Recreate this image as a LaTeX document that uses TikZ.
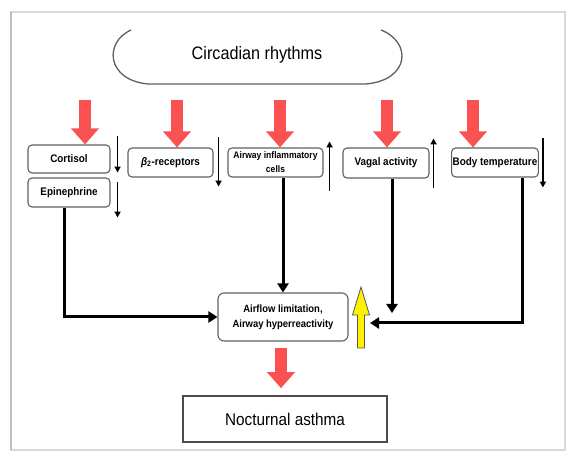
\documentclass[tikz,border=0pt]{standalone}
\usepackage{fontspec}
\setmainfont{Liberation Sans}[FakeStretch=0.9]
\usetikzlibrary{arrows.meta}
\definecolor{arrowred}{RGB}{250,82,82}
\definecolor{boxgray}{RGB}{95,95,95}
\tikzset{
  factor/.style={draw=boxgray, line width=1.1pt, rounded corners=4pt, inner sep=1pt, align=center,
    font=\bfseries\fontsize{11}{13}\selectfont},
  bigred/.style={arrowred, line width=12pt, -{Triangle[length=16pt,width=27pt]}},
  trend/.style={line width=1.7pt, -{Triangle[length=6pt,width=6pt]}},
  link/.style={line width=3pt, -{Triangle[length=9pt,width=11pt]}},
}
\begin{document}
\begin{tikzpicture}[x=1pt,y=-1pt]
  \useasboundingbox (0,0) rectangle (568,454);
  \draw[gray!30, line width=1.5pt] (11,12) rectangle (565,450);
  \draw[gray!50, line width=2.5pt] (11,12) -- (11,450);

  \node[font=\fontsize{18}{20}\selectfont] (circ) at (257,55) {Circadian rhythms};
  \draw[boxgray, line width=1.3pt]
    (131,30) .. controls (104,42) and (106,80) .. (148,84) -- (366,84)
    .. controls (410,80) and (412,42) .. (381,30);

  \node[factor, minimum width=82pt, minimum height=28pt] (cortisol) at (69,159) {Cortisol};
  \node[factor, minimum width=82pt, minimum height=29pt] (epi) at (69,192.5) {Epinephrine};
  \node[factor, minimum width=85pt, minimum height=29pt] (beta) at (170.5,162.5) {{\itshape β}\textsubscript{2}-receptors};
  \node[factor, minimum width=95pt, minimum height=29pt, font=\bfseries\fontsize{9.5}{14}\selectfont]
    (airway) at (275.5,162.5) {Airway inflammatory\\cells};
  \node[factor, minimum width=86pt, minimum height=30pt] (vagal) at (386,163) {Vagal activity};
  \node[factor, minimum width=86pt, minimum height=29pt] (body) at (495,162.5) {Body temperature};
  \node[factor, minimum width=130pt, minimum height=48pt, rounded corners=6pt, font=\bfseries\fontsize{10.5}{15}\selectfont]
    (airflow) at (283,317) {Airflow limitation,\\Airway hyperreactivity};
  \node[draw=boxgray!80!black, line width=1.6pt, minimum width=204pt, minimum height=46pt,
    font=\fontsize{17}{19}\selectfont] (noct) at (285,419) {Nocturnal asthma};

  \foreach \name/\x in {cortisol/85, beta/177, airway/280, vagal/387, body/473}
    \draw[bigred] (\x,100) -- (\x,0 |- \name.north);
  \draw[bigred] ([xshift=-2pt,yshift=-6pt]airflow.south) -- ([xshift=-4pt,yshift=7pt]noct.north);

  \draw[trend] ([xshift=7pt,yshift=8pt]cortisol.north east) -- ([xshift=7pt,yshift=1pt]cortisol.south east);
  \draw[trend] ([xshift=7pt,yshift=-5pt]epi.north east) -- ([xshift=7pt,yshift=-10pt]epi.south east);
  \draw[trend] ([xshift=5pt,yshift=10pt]beta.north east) -- ([xshift=5pt,yshift=-9pt]beta.south east);
  \draw[trend] ([xshift=6pt,yshift=-13pt]airway.south east) -- ([xshift=6pt,yshift=6pt]airway.north east);
  \draw[trend] ([xshift=4pt,yshift=-9pt]vagal.south east) -- ([xshift=4pt,yshift=9pt]vagal.north east);
  \draw[trend] ([xshift=4pt,yshift=9pt]body.north east) -- ([xshift=4pt,yshift=-10pt]body.south east);

  \coordinate (vagalend) at (392,313);
  \coordinate (bodyend) at (370,323);
  \begin{scope}[link]
    \draw ([xshift=-5pt]epi.south) |- (airflow.west);
    \draw (airflow.north |- airway.south) -- (airflow.north);
    \draw (vagalend |- vagal.south) -- (vagalend);
    \draw ([xshift=27pt]body.south) |- (bodyend);
  \end{scope}

  \filldraw[fill=yellow, draw=gray!70!black, line width=0.8pt]
    (357.5,348) -- (357.5,315) -- (352.5,315) -- (361,287) -- (369.5,315) -- (364.5,315) -- (364.5,348) -- cycle;
\end{tikzpicture}
\end{document}
